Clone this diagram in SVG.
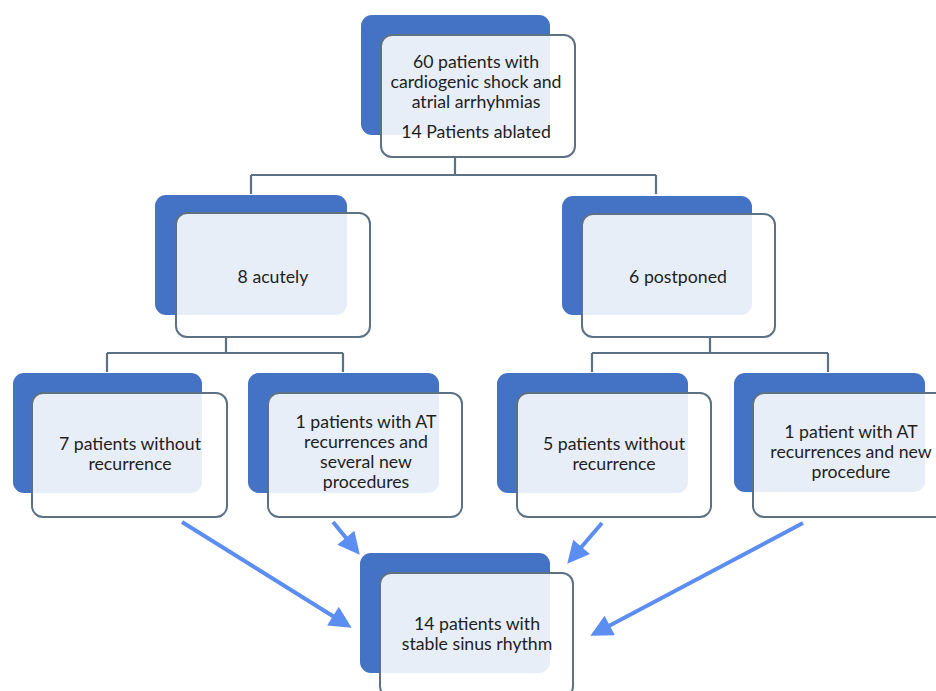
<svg xmlns="http://www.w3.org/2000/svg" width="936" height="691" viewBox="0 0 936 691">
<style>
.back{fill:#4472c4}
.front{fill:#ffffff;fill-opacity:0.88;stroke:#5d7185;stroke-width:2}
.t{font-family:Lato,"Open Sans","Liberation Sans",sans-serif;font-size:17.7px;fill:#1e1e1e;text-anchor:middle}
.conn{fill:none;stroke:#5d7185;stroke-width:2.2}
.arr{fill:none;stroke:#5b8ef0;stroke-width:4}
</style>
<defs>
<marker id="ah" viewBox="0 0 10 10" refX="8" refY="5" markerWidth="6" markerHeight="5.5" orient="auto" markerUnits="strokeWidth">
<path d="M0,0 L10,5 L0,10 z" fill="#5b8ef0"/>
</marker>
</defs>
<rect width="936" height="691" fill="#ffffff"/>
<g id="connectors">
<path class="conn" d="M455,157 V175 M251,175 H656 M251,175 V194 M656,175 V194"/>
<path class="conn" d="M226,337 V353 M107,353 H343 M107,353 V372 M343,353 V372"/>
<path class="conn" d="M710,337 V353 M592,353 H828 M592,353 V372 M828,353 V372"/>
<line class="arr" x1="182" y1="522" x2="347.9" y2="625.5" marker-end="url(#ah)"/>
<line class="arr" x1="333" y1="522" x2="357" y2="551.3" marker-end="url(#ah)"/>
<line class="arr" x1="602" y1="523" x2="570.1" y2="560.3" marker-end="url(#ah)"/>
<line class="arr" x1="803" y1="523" x2="594.2" y2="633.7" marker-end="url(#ah)"/>
</g>
<g id="n-top">
<rect class="back" x="361" y="15" width="189" height="120" rx="11"/>
<rect class="front" x="381" y="35" width="194" height="122" rx="11"/>
<text class="t" x="476" y="68">60 patients with</text>
<text class="t" x="476" y="88">cardiogenic shock and</text>
<text class="t" x="476" y="108">atrial arrhyhmias</text>
<text class="t" x="476" y="138">14 Patients ablated</text>
</g>
<g id="n-acute">
<rect class="back" x="155" y="195" width="192" height="120" rx="11"/>
<rect class="front" x="176" y="213" width="194" height="124" rx="11"/>
<text class="t" x="273" y="283">8 acutely</text>
</g>
<g id="n-post">
<rect class="back" x="562" y="196" width="190" height="119" rx="11"/>
<rect class="front" x="582" y="214" width="193" height="123" rx="11"/>
<text class="t" x="678" y="283">6 postponed</text>
</g>
<g id="n-7">
<rect class="back" x="13" y="373" width="189" height="120" rx="11"/>
<rect class="front" x="32" y="393" width="195" height="124" rx="11"/>
<text class="t" x="130" y="450">7 patients without</text>
<text class="t" x="130" y="470">recurrence</text>
</g>
<g id="n-1a">
<rect class="back" x="248" y="373" width="191" height="120" rx="11"/>
<rect class="front" x="268" y="393" width="194" height="124" rx="11"/>
<text class="t" x="366" y="428">1 patients with AT</text>
<text class="t" x="366" y="448">recurrences and</text>
<text class="t" x="366" y="468">several new</text>
<text class="t" x="366" y="488">procedures</text>
</g>
<g id="n-5">
<rect class="back" x="497" y="373" width="191" height="120" rx="11"/>
<rect class="front" x="517" y="393" width="194" height="124" rx="11"/>
<text class="t" x="614" y="450">5 patients without</text>
<text class="t" x="614" y="470">recurrence</text>
</g>
<g id="n-1b">
<rect class="back" x="734" y="373" width="191" height="119" rx="11"/>
<rect class="front" x="753" y="393" width="194" height="124" rx="11"/>
<text class="t" x="851" y="438">1 patient with AT</text>
<text class="t" x="851" y="458">recurrences and new</text>
<text class="t" x="851" y="478">procedure</text>
</g>
<g id="n-bottom">
<rect class="back" x="360" y="553" width="190" height="120" rx="11"/>
<rect class="front" x="380" y="573" width="193" height="124" rx="11"/>
<text class="t" x="477" y="630">14 patients with</text>
<text class="t" x="477" y="650">stable sinus rhythm</text>
</g>
</svg>
